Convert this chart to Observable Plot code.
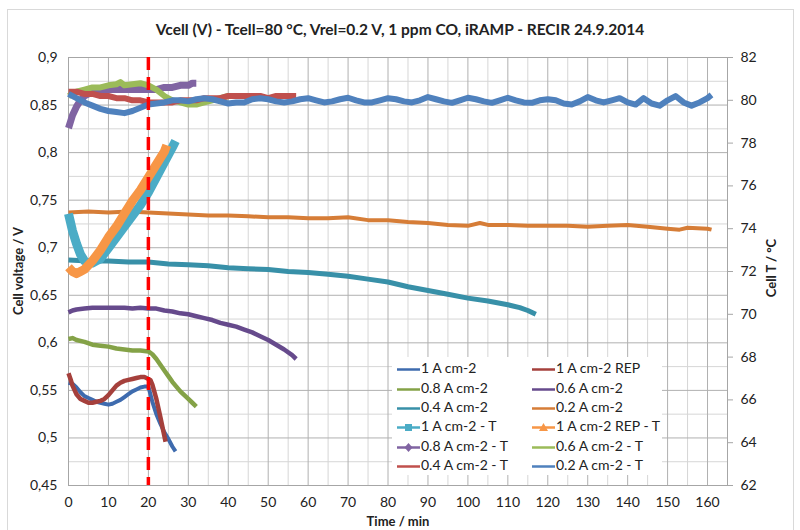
<!DOCTYPE html>
<html><head><meta charset="utf-8">
<script src="https://cdn.jsdelivr.net/npm/d3@7"></script>
<script src="https://cdn.jsdelivr.net/npm/@observablehq/plot@0.6"></script>
<style>
body{margin:0;background:#fff;font-family:Lato,"Open Sans",sans-serif;color:#222}
#wrap{position:relative;width:800px;height:530px;overflow:hidden;background:#fff}
#frame{position:absolute;left:7px;top:9px;width:787px;height:540px;border:1px solid #d9d9d9;box-sizing:border-box}
#title{position:absolute;top:20px;left:0;width:800px;text-align:center;font-weight:bold;font-size:15.5px;color:#222}
#chart{position:absolute;left:0;top:40px}
.axt{position:absolute;font-weight:bold;font-size:13px;color:#222;white-space:nowrap}
#legend{position:absolute;left:392px;top:357px;width:270px;height:118px;background:#fff}
.li{position:absolute;font-size:14px;line-height:16px;white-space:nowrap;color:#222}
.li svg{vertical-align:middle;margin-right:1px}
</style></head>
<body><div id="wrap">
<div id="frame"></div>
<div id="title">Vcell (V) - Tcell=80 °C, Vrel=0.2 V, 1 ppm CO, iRAMP - RECIR 24.9.2014</div>
<div id="chart"></div>
<div class="axt" style="left:18px;top:271px;transform:translate(-50%,-50%) rotate(-90deg)">Cell voltage / V</div>
<div class="axt" style="left:771px;top:268px;transform:translate(-50%,-50%) rotate(-90deg)">Cell T / °C</div>
<div class="axt" style="left:398px;top:513px;transform:translateX(-50%)">Time / min</div>
<div id="legend"></div>
</div>
<script>
// ---------- data ----------
const xTicks = [0,10,20,30,40,50,60,70,80,90,100,110,120,130,140,150,160];
const voltTicks = [0.45,0.5,0.55,0.6,0.65,0.7,0.75,0.8,0.85,0.9];
const tempTicks = [62,64,66,68,70,72,74,76,78,80,82];
const eventTime = [20];

// voltage series (left axis)
const v1A_t = [0,1,2,3,4,5,6,7,8,9,10,11,12,13,14,15,16,17,18,19,20,21,22,23,24,25,26,26.8];
const v1A_v = [0.558,0.557,0.553,0.548,0.544,0.542,0.540,0.538,0.537,0.536,0.535,0.536,0.538,0.540,0.543,0.546,0.549,0.551,0.553,0.554,0.554,0.538,0.525,0.515,0.506,0.499,0.491,0.486];
const v1AREP_t = [0,0.5,1,2,3,4,5,6,7,8,9,10,11,12,13,14,15,16,17,18,19,20,20.5,21,22,23,24,24.3];
const v1AREP_v = [0.568,0.562,0.555,0.546,0.541,0.539,0.537,0.537,0.538,0.539,0.541,0.545,0.550,0.555,0.558,0.560,0.561,0.562,0.563,0.564,0.564,0.562,0.561,0.556,0.541,0.522,0.502,0.496];
const v08_t = [0,1,2,4,6,8,10,12,14,16,18,20,21,22,23,24,25,26,27,28,29,30,31,32];
const v08_v = [0.604,0.605,0.603,0.601,0.598,0.597,0.596,0.594,0.593,0.592,0.592,0.591,0.588,0.583,0.577,0.571,0.565,0.559,0.554,0.549,0.545,0.541,0.537,0.533];
const v06_t = [0,1,2,4,6,8,10,12,14,16,18,20,22,24,26,28,30,32,34,36,38,40,42,44,46,48,50,52,54,56,57];
const v06_v = [0.632,0.634,0.635,0.636,0.637,0.637,0.637,0.637,0.637,0.636,0.637,0.636,0.636,0.634,0.633,0.631,0.630,0.628,0.626,0.624,0.621,0.619,0.617,0.614,0.611,0.607,0.603,0.598,0.593,0.587,0.583];
const v04_t = [0,5,10,15,20,25,30,35,40,45,50,55,60,65,70,75,80,85,90,95,100,105,110,113,115,117];
const v04_v = [0.687,0.686,0.686,0.685,0.685,0.683,0.682,0.681,0.679,0.678,0.677,0.675,0.674,0.672,0.670,0.667,0.664,0.659,0.655,0.651,0.647,0.644,0.640,0.637,0.634,0.630];
const v02_t = [0,5,10,15,20,25,30,35,40,45,50,55,60,65,70,75,80,85,90,95,100,103,105,110,115,120,125,130,135,140,145,150,153,155,160,161];
const v02_v = [0.737,0.738,0.737,0.738,0.737,0.736,0.735,0.734,0.734,0.733,0.732,0.732,0.731,0.731,0.732,0.729,0.729,0.727,0.726,0.724,0.723,0.726,0.724,0.724,0.723,0.723,0.723,0.722,0.723,0.724,0.722,0.720,0.719,0.721,0.720,0.719];

// temperature series (right axis, °C)
const T1A_t = [0,0.5,1,2,3,4,5,6,7,8,10,12,14,16,18,20,22,24,26,26.8];
const T1A_v = [74.7,74.3,73.9,73.3,72.8,72.5,72.4,72.4,72.5,72.6,73.1,73.6,74.1,74.6,75.1,75.7,76.4,77.1,77.8,78.1];
const T1AREP_t = [0,1,2,3,4,5,6,8,10,12,14,16,18,20,22,24,24.6];
const T1AREP_v = [72.2,72.0,71.9,72.0,72.1,72.3,72.5,73.0,73.6,74.1,74.7,75.3,75.8,76.4,77.0,77.6,77.9];
const T08_t = [0,0.5,1,2,3,4,5,6,8,10,12,14,16,18,20,22,24,26,28,30,31,32];
const T08_v = [78.7,79.0,79.3,79.7,80.0,80.2,80.3,80.4,80.5,80.5,80.5,80.5,80.5,80.5,80.5,80.5,80.6,80.6,80.7,80.7,80.8,80.8];
const T06_t = [0,2,4,6,8,10,12,13,14,16,18,20,22,24,26,28,30,32,34,36,38,40,42,44];
const T06_v = [80.2,80.4,80.5,80.6,80.6,80.7,80.75,80.85,80.7,80.75,80.8,80.7,80.5,80.2,80.0,79.9,79.8,79.8,79.9,80.0,80.1,80.2,80.2,80.2];
const T04_t = [0,2,4,6,8,10,12,14,16,18,20,22,24,26,28,30,32,34,36,38,40,42,44,46,48,50,52,54,56,57];
const T04_v = [80.4,80.4,80.3,80.3,80.2,80.2,80.1,80.1,80.0,80.0,79.9,79.9,79.9,79.9,80.0,80.0,80.0,80.1,80.1,80.1,80.2,80.2,80.2,80.2,80.2,80.1,80.2,80.2,80.2,80.2];
const T02_t = [0,2,4,6,8,10,12,14,16,18,20,22,24,26,28,30,32,34,36,38,40,42,44,46,48,50,52,54,56,58,60,62,64,66,68,70,72,74,76,78,80,82,84,86,88,90,92,94,96,98,100,102,104,106,108,110,112,114,116,118,120,122,124,126,128,130,132,134,136,138,140,142,144,146,148,150,152,154,156,158,160,161];
const T02_v = [80.3,80.1,79.9,79.75,79.6,79.5,79.45,79.4,79.5,79.65,79.8,79.85,79.9,80.0,80.0,79.95,80.05,80.1,80.05,79.95,79.85,79.9,79.9,80.05,80.1,80.05,79.95,79.9,79.95,80.05,80.1,80.0,79.9,79.95,80.05,80.12,80.0,79.9,79.9,80.0,80.1,80.05,79.95,79.9,80.0,80.15,80.05,79.95,79.88,80.0,80.12,80.05,79.95,79.88,80.0,80.12,80.0,79.9,79.88,80.0,80.05,80.0,79.85,79.8,79.95,80.15,80.0,79.9,80.0,80.1,79.9,79.8,80.1,79.85,79.75,80.0,80.2,79.9,79.75,79.9,80.1,80.25];

// ---------- build ----------
const VMIN=0.45, VMAX=0.9, TMIN=62, TMAX=82;
const tToV = T => VMIN + (T - TMIN) / (TMAX - TMIN) * (VMAX - VMIN);
const vToT = v => TMIN + (v - VMIN) / (VMAX - VMIN) * (TMAX - TMIN);

const series = [
  {name:"1 A cm-2", t:v1A_t, v:v1A_v, color:"#3E6BAE", w:4, temp:false},
  {name:"1 A cm-2 REP", t:v1AREP_t, v:v1AREP_v, color:"#A5403C", w:4.5, temp:false},
  {name:"0.8 A cm-2", t:v08_t, v:v08_v, color:"#84A247", w:4.5, temp:false},
  {name:"0.6 A cm-2", t:v06_t, v:v06_v, color:"#664A8C", w:4.5, temp:false},
  {name:"0.4 A cm-2", t:v04_t, v:v04_v, color:"#3890A8", w:5, temp:false},
  {name:"0.2 A cm-2", t:v02_t, v:v02_v, color:"#D67D37", w:4, temp:false},
  {name:"1 A cm-2 - T", t:T1A_t, v:T1A_v, color:"#4BACC6", w:9, temp:true, marker:"square"},
  {name:"1 A cm-2 REP - T", t:T1AREP_t, v:T1AREP_v, color:"#F79646", w:9, temp:true, marker:"triangle"},
  {name:"0.8 A cm-2 - T", t:T08_t, v:T08_v, color:"#8064A2", w:7, temp:true, marker:"diamond"},
  {name:"0.6 A cm-2 - T", t:T06_t, v:T06_v, color:"#9BBB59", w:6, temp:true},
  {name:"0.4 A cm-2 - T", t:T04_t, v:T04_v, color:"#C0504D", w:6, temp:true},
  {name:"0.2 A cm-2 - T", t:T02_t, v:T02_v, color:"#4F81BD", w:6, temp:true}
];

const minorX = d3.range(5, 166, 10);
const minorY = voltTicks.slice(0, -1).map(d => d + 0.025);

const marks = [
  Plot.ruleX(minorX, {stroke:"#d6d6d6", strokeWidth:1}),
  Plot.ruleY(minorY, {stroke:"#d6d6d6", strokeWidth:1}),
  Plot.ruleX(xTicks, {stroke:"#b0b0b0", strokeWidth:1}),
  Plot.ruleY(voltTicks, {stroke:"#b0b0b0", strokeWidth:1}),
  Plot.frame({stroke:"#a6a6a6"})
];
for (const s of series) {
  const data = s.t.map((t, i) => ({t, y: s.temp ? tToV(s.v[i]) : s.v[i]}));
  marks.push(Plot.line(data, {x:"t", y:"y", stroke:s.color, strokeWidth:s.w, strokeLinejoin:"round", strokeLinecap:"butt"}));
}
marks.push(Plot.ruleX(eventTime, {stroke:"#FF0000", strokeWidth:3.5, strokeDasharray:"13,7"}));
marks.push(Plot.axisY(voltTicks, {anchor:"left", tickSize:0, tickPadding:11, tickFormat:d => String(d).replace(".", ","), label:null}));
marks.push(Plot.axisY(tempTicks.map(tToV), {anchor:"right", tickSize:5, tickPadding:8, tickFormat:v => String(Math.round(vToT(v))), label:null, stroke:"#a6a6a6"}));
marks.push(Plot.axisX(xTicks, {tickSize:0, tickPadding:12, label:null}));

const chart = Plot.plot({
  width:800, height:490,
  marginLeft:68, marginRight:73, marginTop:17, marginBottom:45,
  x:{domain:[0,165]},
  y:{domain:[VMIN,VMAX]},
  style:{fontFamily:"Lato, 'Open Sans', sans-serif", fontSize:"14px", color:"#222", background:"transparent"},
  marks
});
document.getElementById("chart").appendChild(chart);

// legend
const legend = document.getElementById("legend");
const cols = [5, 140];
const rows = [11, 31, 50, 69, 89, 108];
function markerSvg(color, marker) {
  let m = "";
  if (marker === "square") m = `<rect x="8" y="4" width="7" height="7" fill="${color}"/>`;
  if (marker === "triangle") m = `<polygon points="11.5,3 16,11 7,11" fill="${color}"/>`;
  if (marker === "diamond") m = `<polygon points="11.5,3 15.5,7.5 11.5,12 7.5,7.5" fill="${color}"/>`;
  return `<svg width="23" height="15"><line x1="0" x2="23" y1="7.5" y2="7.5" stroke="${color}" stroke-width="2.5"/>${m}</svg>`;
}
series.forEach((s, i) => {
  const d = document.createElement("div");
  d.className = "li";
  d.style.left = cols[i % 2] + "px";
  d.style.top = (rows[Math.floor(i / 2)] - 8) + "px";
  d.innerHTML = markerSvg(s.color, s.marker) + s.name;
  legend.appendChild(d);
});
</script>
</body></html>
